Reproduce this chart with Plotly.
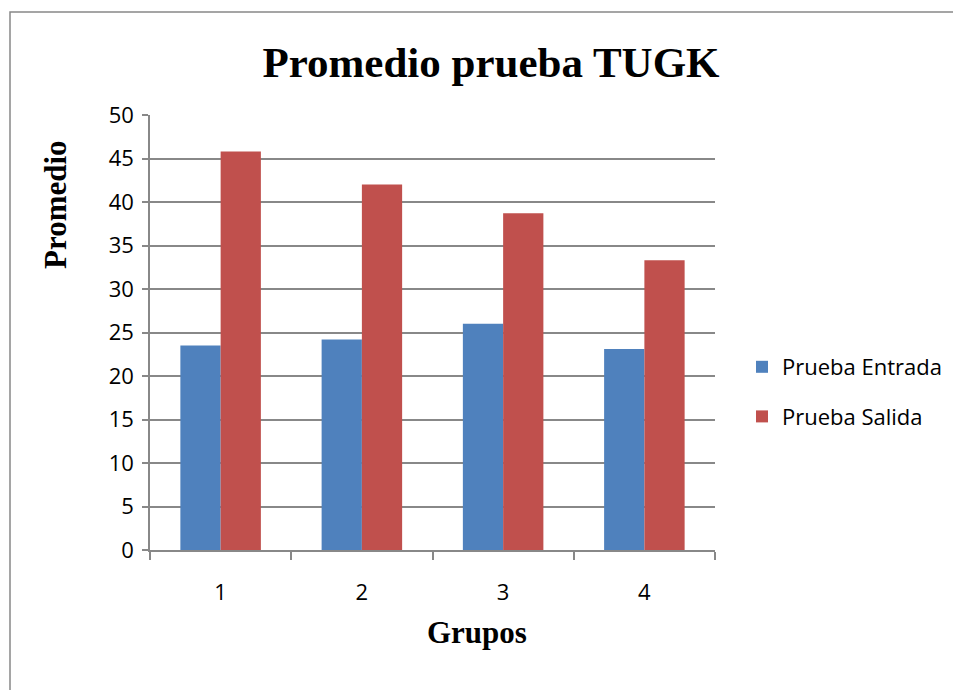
import plotly.graph_objects as go

categories = ["1", "2", "3", "4"]
entrada = [23.5, 24.2, 26.0, 23.1]
salida = [45.8, 42.0, 38.7, 33.3]
y_ticks = [0, 5, 10, 15, 20, 25, 30, 35, 40, 45, 50]

W, H = 961, 690
OFF = 8  # page body margin
L, R, T, B = 150 - OFF, 715 - OFF, 115 - OFF, 550 - OFF

def px(x):
    return (x - OFF - L) / (R - L)

def py(y):
    return (B - (y - OFF)) / (B - T)

fig = go.Figure()
fig.add_trace(go.Bar(x=categories, y=entrada, name="Prueba Entrada",
                     marker=dict(color="#4F81BD", line=dict(width=0)),
                     legendgroup="a"))
fig.add_trace(go.Bar(x=categories, y=salida, name="Prueba Salida",
                     marker=dict(color="#C0504D", line=dict(width=0)),
                     legendgroup="b"))

tick_font = dict(family="Open Sans, Liberation Sans, sans-serif", size=22, color="#000000")

fig.update_layout(
    width=W, height=H,
    margin=dict(l=L, r=W - R, t=T, b=H - B, pad=0),
    paper_bgcolor="white", plot_bgcolor="white",
    barmode="group", bargap=0.43, bargroupgap=0,
    showlegend=True,
    legend=dict(x=px(742), y=py(392), xanchor="left", yanchor="middle",
                font=tick_font, tracegroupgap=18, itemwidth=30,
                bgcolor="rgba(0,0,0,0)"),
    title=dict(text="<b>Promedio prueba TUGK</b>", x=(491 - OFF) / W, y=1 - (62 - OFF) / H,
               xanchor="center", yanchor="middle",
               font=dict(family="Liberation Serif, Times New Roman, serif", size=43, color="#000000")),
    xaxis=dict(showline=True, linecolor="#888888", linewidth=1.5,
               ticks="outside", ticklen=8, tickcolor="#888888", tickwidth=1.5,
               tickson="boundaries", tickfont=tick_font, ticklabelstandoff=22,
               showgrid=False, zeroline=False),
    yaxis=dict(range=[0, 50], tickvals=y_ticks, showline=True, linecolor="#888888",
               linewidth=1.5, ticks="outside", ticklen=6, tickcolor="#888888",
               tickwidth=1.5, tickfont=tick_font, ticklabelstandoff=4,
               showgrid=True, gridcolor="#888888", gridwidth=1.5, zeroline=False),
    shapes=[dict(type="rect", xref="paper", yref="paper",
                 x0=px(10), x1=px(1000), y0=py(720), y1=py(12),
                 line=dict(color="#888888", width=1.5), fillcolor="rgba(0,0,0,0)", layer="below")],
    annotations=[
        dict(text="<b>Grupos</b>", xref="paper", yref="paper", x=px(477), y=py(632),
             xanchor="center", yanchor="middle", showarrow=False,
             font=dict(family="Liberation Serif, Times New Roman, serif", size=31, color="#000000")),
        dict(text="<b>Promedio</b>", xref="paper", yref="paper", x=px(55), y=py(205),
             xanchor="center", yanchor="middle", showarrow=False, textangle=-90,
             font=dict(family="Liberation Serif, Times New Roman, serif", size=31, color="#000000")),
    ],
)

fig.write_html("out.html")
